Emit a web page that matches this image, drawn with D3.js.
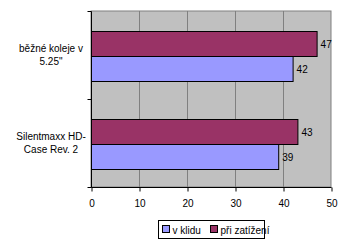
<!DOCTYPE html>
<html><head><meta charset="utf-8">
<script src="https://cdn.jsdelivr.net/npm/d3@7"></script>
<style>body{margin:0;background:#fff}svg{display:block}text{font-family:"Liberation Sans",Arial,sans-serif;font-size:10px;fill:#000}</style>
</head><body><svg id="c" width="350" height="246"></svg>
<script>
const categories = ["běžné koleje v 5.25\"", "Silentmaxx HD-Case Rev. 2"];
const categoryLines = [["běžné koleje v", "5.25\""], ["Silentmaxx HD-", "Case Rev. 2"]];
const seriesNames = ["v klidu", "při zatížení"];
const idle = [42, 39];
const load = [47, 43];
const xTicks = [0, 10, 20, 30, 40, 50];
const colors = ["#9999ff", "#993366"];

const svg = d3.select("#c");
const L = 91, R = 331, T = 11, B = 187;
const x = d3.scaleLinear().domain([0, 50]).range([L, R]);
const y = d3.scaleBand().domain(categories).range([T, B]);
const inner = d3.scaleBand().domain(["load", "idle"]).range([20, 88 - 18]);

svg.append("rect").attr("x", L).attr("y", T).attr("width", R - L).attr("height", B - T)
  .attr("fill", "#c0c0c0").attr("stroke", "#808080");
svg.append("g").selectAll("line").data(xTicks.slice(1, -1)).join("line")
  .attr("x1", d => x(d) + 0.5).attr("x2", d => x(d) + 0.5).attr("y1", T).attr("y2", B)
  .attr("stroke", "#808080");

const data = categories.flatMap((c, i) => [
  {c, k: "load", v: load[i], col: colors[1]},
  {c, k: "idle", v: idle[i], col: colors[0]}
]);
svg.append("g").selectAll("rect").data(data).join("rect")
  .attr("x", x(0) + 0.5).attr("y", d => y(d.c) + inner(d.k) + 0.5)
  .attr("width", d => x(d.v) - x(0)).attr("height", inner.bandwidth())
  .attr("fill", d => d.col).attr("stroke", "#000").attr("stroke-width", 1);
svg.append("g").selectAll("text").data(data).join("text")
  .attr("x", d => x(d.v) + 4).attr("y", d => y(d.c) + inner(d.k) + inner.bandwidth() / 2 + 4)
  .text(d => d.v);

// axes
const xa = svg.append("g").attr("transform", `translate(0.5,${B + 0.5})`)
  .call(d3.axisBottom(x).tickValues(xTicks).tickSize(4).tickPadding(8));
xa.select(".domain").attr("stroke", "#000").attr("d", `M${L},0H${R}`);
xa.selectAll(".tick line").attr("stroke", "#000");
xa.selectAll("text").style("font-size", "10px").attr("fill", "#000");

const ya = svg.append("g").attr("transform", `translate(${L + 0.5},0.5)`);
ya.append("line").attr("y1", T).attr("y2", B).attr("stroke", "#000");
ya.selectAll("line.t").data([T, y(categories[1]), B]).join("line").attr("class", "t")
  .attr("x1", -4).attr("x2", 0).attr("y1", d => d).attr("y2", d => d).attr("stroke", "#000");

categories.forEach((c, i) => {
  const cy = y(c) + y.bandwidth() / 2;
  const t = svg.append("text").attr("text-anchor", "middle").attr("x", 51).attr("y", cy - 3);
  categoryLines[i].forEach((ln, j) => t.append("tspan").attr("x", 51).attr("dy", j ? 13 : 0).text(ln));
});

// legend
const lg = svg.append("g").attr("transform", "translate(158.5,220.5)");
lg.append("rect").attr("width", 106).attr("height", 18).attr("fill", "#fff").attr("stroke", "#000");
const lx = [4, 52];
seriesNames.forEach((n, i) => {
  lg.append("rect").attr("x", lx[i]).attr("y", 5).attr("width", 7).attr("height", 7)
    .attr("fill", colors[i]).attr("stroke", "#000");
  lg.append("text").attr("x", lx[i] + 10).attr("y", 13).text(n);
});
</script></body></html>
